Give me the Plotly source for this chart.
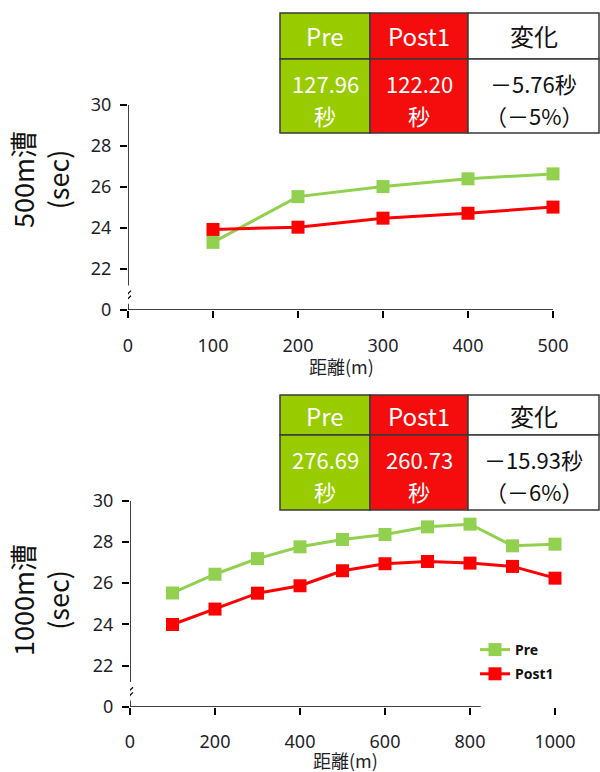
import plotly.graph_objects as go

# ---- data ----
dist_500 = [100, 200, 300, 400, 500]
pre_500 = [23.3, 25.53, 26.02, 26.40, 26.64]
post_500 = [23.93, 24.04, 24.48, 24.72, 25.02]

dist_1000 = [100, 200, 300, 400, 500, 600, 700, 800, 900, 1000]
pre_1000 = [25.52, 26.43, 27.19, 27.76, 28.12, 28.36, 28.73, 28.86, 27.81, 27.89]
post_1000 = [23.99, 24.74, 25.51, 25.87, 26.60, 26.94, 27.05, 26.97, 26.81, 26.24]

series_names = ["Pre", "Post1"]
y_tickvals = [20, 22, 24, 26, 28, 30]
y_ticktext = ["0", "22", "24", "26", "28", "30"]
x_ticks_500 = [0, 100, 200, 300, 400, 500]
x_ticks_1000 = [0, 200, 400, 600, 800, 1000]

table_header = ["Pre", "Post1", "変化"]
table_500 = ["127.96<br>秒", "122.20<br>秒", "－5.76秒<br>（－5%）"]
table_1000 = ["276.69<br>秒", "260.73<br>秒", "－15.93秒<br>（－6%）"]

ytitle_500 = "500m漕<br>(sec)"
ytitle_1000 = "1000m漕<br>(sec)"
xtitle = "距離(m)"

GREEN_LINE = "#92D050"
RED_LINE = "#FF0000"
GREEN_CELL = "#99CC00"
RED_CELL = "#F50D0D"
W, H = 600, 772

def px(x):
    return x / W

def py(y):
    return 1 - y / H

fig = go.Figure()

font_tick = dict(family="Noto Sans, Open Sans, sans-serif", size=18, color="#1f1f2a")

for (xs, ys_pre, ys_post, xa, ya, legend) in [
    (dist_500, pre_500, post_500, "x", "y", False),
    (dist_1000, pre_1000, post_1000, "x2", "y2", True),
]:
    fig.add_trace(go.Scatter(x=xs, y=ys_pre, mode="lines+markers", name=series_names[0],
                             legendgroup="g1",
                             line=dict(color=GREEN_LINE, width=3),
                             marker=dict(symbol="square", size=13, color=GREEN_LINE),
                             cliponaxis=False, showlegend=legend, xaxis=xa, yaxis=ya))
    fig.add_trace(go.Scatter(x=xs, y=ys_post, mode="lines+markers", name=series_names[1],
                             legendgroup="g2",
                             line=dict(color=RED_LINE, width=3),
                             marker=dict(symbol="square", size=13, color=RED_LINE),
                             cliponaxis=False, showlegend=legend, xaxis=xa, yaxis=ya))

common_x = dict(showline=False, ticks="outside", ticklen=7, tickwidth=1.5, tickcolor="#000",
                showgrid=False, zeroline=False, tickfont=font_tick, ticklabelstandoff=12,
                automargin=False)
common_y = dict(showline=False, ticks="outside", ticklen=7, tickwidth=1.5, tickcolor="#000",
                showgrid=False, zeroline=False, tickfont=font_tick, range=[20, 30],
                tickvals=y_tickvals, ticktext=y_ticktext, ticklabelstandoff=5, automargin=False)

fig.update_layout(
    width=W, height=H, margin=dict(l=0, r=0, t=0, b=0, autoexpand=False),
    paper_bgcolor="white", plot_bgcolor="white",
    xaxis=dict(domain=[px(128), px(553)], range=[0, 500], tickvals=x_ticks_500, anchor="y", **common_x),
    yaxis=dict(domain=[py(310), py(105)], anchor="x", **common_y),
    xaxis2=dict(domain=[px(130), px(555)], range=[0, 1000], tickvals=x_ticks_1000, anchor="y2", **common_x),
    yaxis2=dict(domain=[py(706.7), py(500.7)], anchor="x2", **common_y),
    legend=dict(x=px(475), y=py(634), xanchor="left", yanchor="top", bgcolor="white",
                font=dict(family="Noto Sans, sans-serif", size=14, color="#111", weight="bold"),
                itemwidth=30, tracegroupgap=3, traceorder="grouped"),
)

shapes = []
# axis lines with break marks
for xa, ya, xend in [("x", "y", 500), ("x2", "y2", 825)]:
    line = dict(color="#000", width=1.5)
    shapes.append(dict(type="line", xref=xa, yref=ya, x0=0, x1=xend, y0=20, y1=20, line=line))
    shapes.append(dict(type="line", xref=xa, yref=ya, x0=0, x1=0, y0=21.2, y1=30, line=line))
    shapes.append(dict(type="line", xref=xa, yref=ya, x0=0, x1=0, y0=20, y1=20.3, line=line))
    for anchor in [20.55, 20.8]:
        shapes.append(dict(type="line", xref=xa, yref=ya, xsizemode="pixel", ysizemode="pixel",
                           xanchor=0, yanchor=anchor, x0=-3, x1=3, y0=-3, y1=3,
                           line=dict(color="#000", width=1.2)))

# tables
col_edges = [280, 370, 468, 599]
cell_fill = [GREEN_CELL, RED_CELL, "white"]
text_col = ["white", "white", "#111"]
annotations = []
tfont = "Noto Sans CJK JP, Noto Sans, sans-serif"
for top, mid, bot, values in [(13, 59, 133, table_500), (395, 435, 510, table_1000)]:
    for i in range(3):
        for (r0, r1) in [(top, mid), (mid, bot)]:
            shapes.append(dict(type="rect", xref="paper", yref="paper", layer="above",
                               x0=px(col_edges[i]), x1=px(col_edges[i + 1]), y0=py(r1), y1=py(r0),
                               fillcolor=cell_fill[i], line=dict(color="#3a3a3a", width=1.5)))
        cx = (col_edges[i] + col_edges[i + 1]) / 2
        annotations.append(dict(xref="paper", yref="paper", x=px(cx), y=py((top + mid) / 2),
                                text=table_header[i], showarrow=False, xanchor="center", yanchor="middle",
                                font=dict(family=tfont, size=24, color=text_col[i])))
        for k, part in enumerate(values[i].split("<br>")):
            annotations.append(dict(xref="paper", yref="paper", x=px(cx), y=py(mid + 24 + 32 * k),
                                    text=part, showarrow=False, xanchor="center", yanchor="middle",
                                    font=dict(family=tfont, size=22, color=text_col[i])))

# axis titles
for text, cy in [(ytitle_500, 180), (ytitle_1000, 600)]:
    annotations.append(dict(xref="paper", yref="paper", x=px(40), y=py(cy), text=text, textangle=-90,
                            showarrow=False, xanchor="center", yanchor="middle",
                            font=dict(family="Noto Sans CJK JP, Noto Sans, sans-serif", size=27, color="#111")))
for cx, cy in [(342, 366), (345, 760)]:
    annotations.append(dict(xref="paper", yref="paper", x=px(cx), y=py(cy), text=xtitle,
                            showarrow=False, xanchor="center", yanchor="middle",
                            font=dict(family="Noto Sans CJK JP, Noto Sans, sans-serif", size=18, color="#1f1f2a")))

fig.update_layout(shapes=shapes, annotations=annotations)
fig.write_html("out.html", config={"displayModeBar": False},
               post_script="document.body.style.margin='0';document.body.style.overflow='hidden';")
